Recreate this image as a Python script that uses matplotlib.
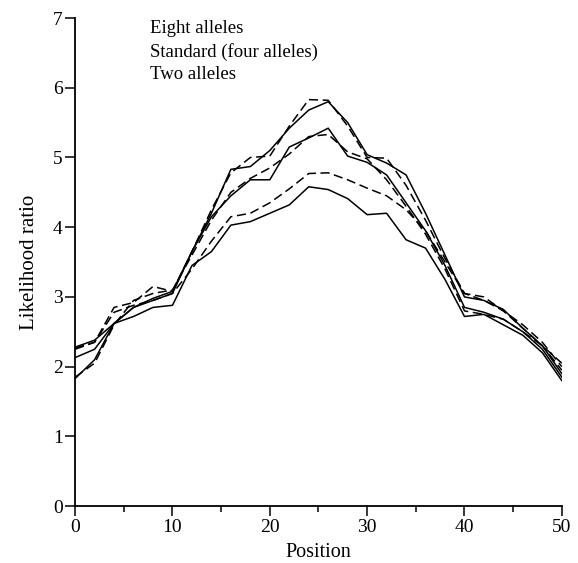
import matplotlib.pyplot as plt
import numpy as np
from matplotlib.ticker import MultipleLocator

plt.rcParams['font.family'] = ['Liberation Serif', 'DejaVu Serif']

position = np.arange(0, 51, 2)

# six runs: solid and dashed pairs
top_solid = [2.28, 2.38, 2.62, 2.85, 2.98, 3.08, 3.65, 4.2, 4.83, 4.87, 5.1, 5.42, 5.68,
             5.80, 5.5, 5.04, 4.92, 4.75, 4.2, 3.6, 3.0, 2.95, 2.82, 2.55, 2.3, 1.9]
top_dashed = [2.25, 2.35, 2.85, 2.92, 3.15, 3.08, 3.65, 4.25, 4.78, 5.0, 5.02, 5.45, 5.83,
              5.82, 5.45, 5.0, 4.99, 4.6, 4.1, 3.55, 3.05, 3.0, 2.8, 2.55, 2.3, 1.95]
mid_solid = [1.83, 2.1, 2.62, 2.85, 2.95, 3.05, 3.65, 4.15, 4.45, 4.68, 4.68, 5.15, 5.28,
             5.42, 5.02, 4.93, 4.75, 4.35, 3.95, 3.45, 2.85, 2.78, 2.68, 2.5, 2.25, 1.85]
mid_dashed = [1.85, 2.05, 2.6, 2.95, 3.05, 3.1, 3.6, 4.1, 4.5, 4.7, 4.85, 5.05, 5.3,
              5.33, 5.08, 4.98, 4.68, 4.3, 3.9, 3.4, 2.8, 2.75, 2.68, 2.5, 2.3, 2.05]
low_dashed = [2.27, 2.35, 2.78, 2.88, 2.95, 3.05, 3.4, 3.8, 4.15, 4.2, 4.35, 4.55, 4.77,
              4.78, 4.68, 4.56, 4.45, 4.25, 3.95, 3.5, 3.05, 2.95, 2.8, 2.6, 2.35, 2.0]
low_solid = [2.13, 2.25, 2.62, 2.72, 2.85, 2.88, 3.45, 3.65, 4.03, 4.08, 4.2, 4.32, 4.58,
             4.54, 4.41, 4.18, 4.2, 3.82, 3.7, 3.25, 2.72, 2.75, 2.6, 2.45, 2.2, 1.8]

labels = ['Eight alleles', 'Standard (four alleles)', 'Two alleles']

fig = plt.figure(figsize=(5.78, 5.63), dpi=100)
ax = fig.add_axes([0.13, 0.101, 0.842, 0.867])

for ys, ls in [(top_solid, '-'), (top_dashed, '--'), (mid_solid, '-'),
               (mid_dashed, '--'), (low_dashed, '--'), (low_solid, '-')]:
    ax.plot(position, ys, color='black', linestyle=ls, linewidth=1.1,
            dashes=(6, 3) if ls == '--' else (None, None))

for i, lab in enumerate(labels):
    ax.text(0.154, 0.978 - i * 0.047, lab, transform=ax.transAxes,
            fontsize=13.5, va='center', ha='left')

ax.set_xlim(0, 50)
ax.set_ylim(0, 7)
ax.xaxis.set_major_locator(MultipleLocator(10))
ax.xaxis.set_minor_locator(MultipleLocator(5))
ax.yaxis.set_major_locator(MultipleLocator(1))
ax.spines['top'].set_visible(False)
ax.spines['right'].set_visible(False)
ax.spines['left'].set_linewidth(1.3)
ax.spines['bottom'].set_linewidth(1.3)
ax.tick_params(which='both', direction='out', width=1.1, labelsize=14, pad=2)
ax.tick_params(which='major', length=7)
ax.tick_params(which='minor', length=4.5)
ax.set_xlabel('Position', fontsize=14.5, labelpad=5)
ax.set_ylabel('Likelihood ratio', fontsize=15, labelpad=10)

fig.savefig('out.png', dpi=100)
